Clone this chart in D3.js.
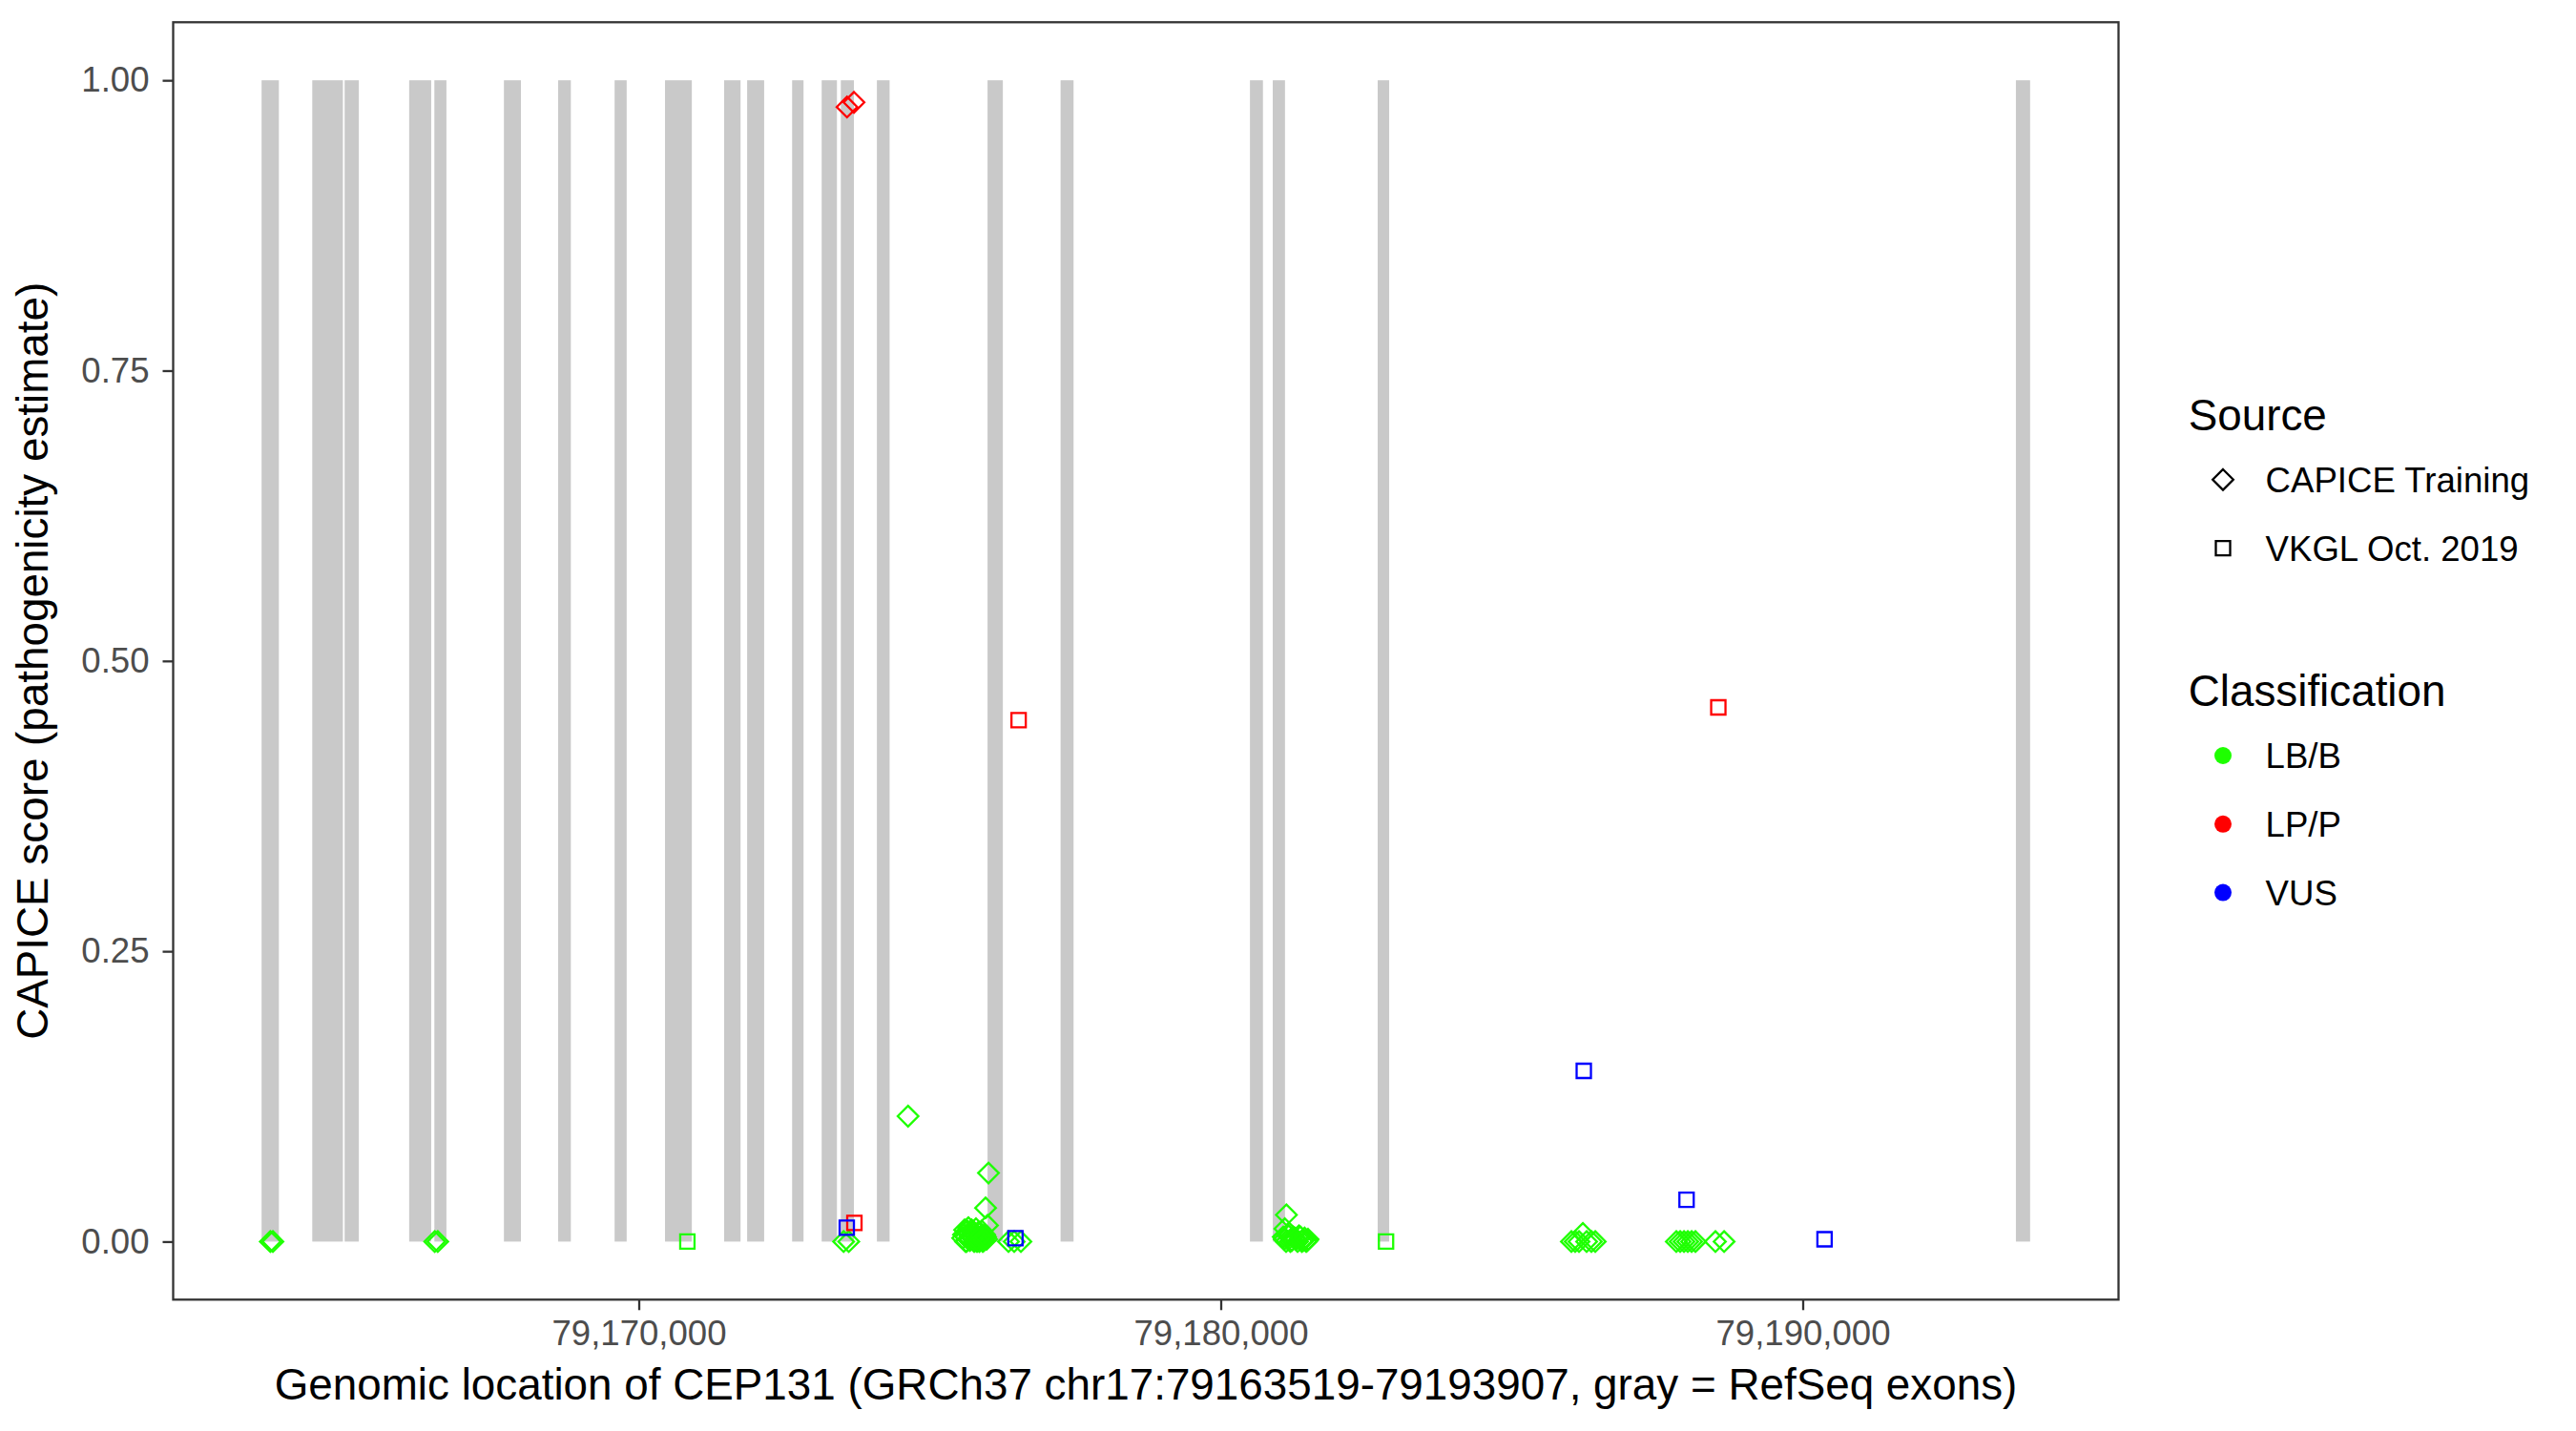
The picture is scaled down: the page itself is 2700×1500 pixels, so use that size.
<!DOCTYPE html>
<html>
<head>
<meta charset="utf-8">
<script src="https://cdn.jsdelivr.net/npm/d3@7"></script>
<style>
  html, body { margin: 0; padding: 0; background: #ffffff; }
  svg { display: block; font-family: "Liberation Sans", Arial, Helvetica, sans-serif; }
</style>
</head>
<body>
<svg id="chart" width="2700" height="1500"></svg>
<script>
// ---------------- data ----------------
const geneStart = 79163519;
const geneEnd = 79193907;

const exonStarts = [79163519, 79164390, 79164946, 79166055, 79166488, 79167683, 79168615, 79169585,
  79170451, 79171467, 79171862, 79172635, 79173143, 79173472, 79174092, 79175993, 79177248,
  79180502, 79180894, 79182697, 79193663];
const exonEnds = [79163816, 79164916, 79165190, 79166433, 79166695, 79167975, 79168833, 79169792,
  79170912, 79171749, 79172154, 79172831, 79173405, 79173697, 79174310, 79176256, 79177471,
  79180725, 79181104, 79182894, 79193907];

// CAPICE Training (diamonds)
const capiceLBpos = [79163669, 79163713, 79166494, 79166546, 79173520, 79173608,
  79174627, 79176009, 79175959, 79175992,
  79175566, 79175599, 79175615, 79175631, 79175664, 79175681, 79175697, 79175713, 79175730, 79175763,
  79175779, 79175795, 79175812, 79175828, 79175861, 79175877, 79175894, 79175910, 79175943, 79175976,
  79175580, 79175622, 79175648, 79175690, 79175722, 79175748, 79175770, 79175804, 79175836, 79175852,
  79175884, 79175918, 79175930, 79175958,
  79176353, 79176451, 79176566,
  79181102, 79181128,
  79181074, 79181123, 79181172, 79181222, 79181271, 79181320, 79181369, 79181418, 79181468, 79181500,
  79181090, 79181148, 79181196, 79181246, 79181296, 79181344, 79181394, 79181442, 79181486,
  79186025, 79186090, 79186156, 79186222, 79186287, 79186369, 79186435,
  79187828, 79187894, 79187960, 79188025, 79188091, 79188156, 79188500, 79188649];
const capiceLBscore = [0, 0, 0, 0, 0, 0,
  0.108, 0.059, 0.029, 0.014,
  0.003, 0.010, 0.0, 0.0, 0.012, 0.007, 0.002, 0.005, 0.008, 0.0,
  0.001, 0.011, 0.0, 0.004, 0.001, 0.003, 0.009, 0.0, 0.006, 0.002,
  0.006, 0.004, 0.009, 0.001, 0.010, 0.003, 0.007, 0.002, 0.008, 0.0,
  0.005, 0.003, 0.001, 0.004,
  0, 0, 0,
  0.011, 0.023,
  0.004, 0.0, 0.005, 0.001, 0.003, 0.0, 0.004, 0.001, 0.0, 0.002,
  0.002, 0.006, 0.0, 0.004, 0.002, 0.005, 0.0, 0.003, 0.001,
  0, 0, 0, 0.007, 0, 0, 0,
  0, 0, 0, 0, 0, 0, 0, 0];
const capiceLPpos = [79173578, 79173698];
const capiceLPscore = [0.977, 0.981];

// VKGL Oct. 2019 (squares)
const vkglLBpos = [79170835, 79182840];
const vkglLBscore = [0, 0];
const vkglLPpos = [79173705, 79176527, 79188550];
const vkglLPscore = [0.016, 0.449, 0.460];
const vkglVUSpos = [79173574, 79176472, 79186238, 79188004, 79190375];
const vkglVUSscore = [0.012, 0.003, 0.147, 0.036, 0.002];

const xTicks = [79170000, 79180000, 79190000];
const yTicks = [0, 0.25, 0.5, 0.75, 1.0];
const sourceLabels = ["CAPICE Training", "VKGL Oct. 2019"];
const classLabels = ["LB/B", "LP/P", "VUS"];
const classColors = ["#1EFF00", "#FF0000", "#0000FF"];

// ---------------- layout ----------------
const svg = d3.select("#chart");
const panel = { left: 181.5, top: 23.3, right: 2220.5, bottom: 1362.3 };
const baseFont = 45.8, smallFont = 36.6;
const span = geneEnd - geneStart;
const x = d3.scaleLinear()
  .domain([geneStart - 0.05 * span, geneEnd + 0.05 * span])
  .range([panel.left, panel.right]);
const y = d3.scaleLinear()
  .domain([-0.05, 1.05])
  .range([panel.bottom, panel.top]);
const color = d3.scaleOrdinal().domain(classLabels).range(classColors);

svg.append("rect")
  .attr("x", panel.left).attr("y", panel.top)
  .attr("width", panel.right - panel.left).attr("height", panel.bottom - panel.top)
  .attr("fill", "#ffffff");

// exons
svg.append("g").selectAll("rect")
  .data(exonStarts.map((s, i) => ({ s, e: exonEnds[i] })))
  .join("rect")
  .attr("x", d => x(d.s))
  .attr("width", d => Math.max(1, x(d.e) - x(d.s)))
  .attr("y", y(1))
  .attr("height", y(0) - y(1))
  .attr("fill", "#C9C9C9");

// points
function build(pos, score, src, cls) {
  return pos.map((p, i) => ({ p, v: score[i], src, cls }));
}
const points = [].concat(
  build(capiceLBpos, capiceLBscore, sourceLabels[0], "LB/B"),
  build(capiceLPpos, capiceLPscore, sourceLabels[0], "LP/P"),
  build(vkglLBpos, vkglLBscore, sourceLabels[1], "LB/B"),
  build(vkglLPpos, vkglLPscore, sourceLabels[1], "LP/P"),
  build(vkglVUSpos, vkglVUSscore, sourceLabels[1], "VUS")
);

const diamondPath = "M0,-10.8L10.8,0L0,10.8L-10.8,0Z";
const squarePath = "M-7.5,-7.5H7.5V7.5H-7.5Z";
function shapePath(src) { return src === sourceLabels[0] ? diamondPath : squarePath; }

svg.append("g").selectAll("path")
  .data(points)
  .join("path")
  .attr("transform", d => `translate(${x(d.p)},${y(d.v)})`)
  .attr("d", d => shapePath(d.src))
  .attr("fill", "none")
  .attr("stroke", d => color(d.cls))
  .attr("stroke-width", 2.3);

// panel border
svg.append("rect")
  .attr("x", panel.left).attr("y", panel.top)
  .attr("width", panel.right - panel.left).attr("height", panel.bottom - panel.top)
  .attr("fill", "none").attr("stroke", "#333333").attr("stroke-width", 2.3);

// axes
const xAxis = svg.append("g")
  .attr("transform", `translate(0,${panel.bottom})`)
  .call(d3.axisBottom(x).tickValues(xTicks).tickFormat(d3.format(",")).tickSize(11).tickPadding(11));
const yAxis = svg.append("g")
  .attr("transform", `translate(${panel.left},0)`)
  .call(d3.axisLeft(y).tickValues(yTicks).tickFormat(d3.format(".2f")).tickSize(11).tickPadding(14));
[xAxis, yAxis].forEach(a => {
  a.select(".domain").remove();
  a.selectAll(".tick line").attr("stroke", "#333333").attr("stroke-width", 2.3);
  a.selectAll(".tick text").attr("fill", "#4D4D4D").style("font-size", smallFont + "px")
    .style("font-family", "'Liberation Sans', Arial, sans-serif");
});

// axis titles
svg.append("text")
  .attr("x", (panel.left + panel.right) / 2).attr("y", 1467)
  .attr("text-anchor", "middle").attr("fill", "#000")
  .style("font-size", baseFont + "px")
  .text("Genomic location of CEP131 (GRCh37 chr17:79163519-79193907, gray = RefSeq exons)");
svg.append("text")
  .attr("transform", `translate(50,${(panel.top + panel.bottom) / 2}) rotate(-90)`)
  .attr("text-anchor", "middle").attr("fill", "#000")
  .style("font-size", baseFont + "px")
  .text("CAPICE score (pathogenicity estimate)");

// legends
const keyX = 2330, textX = 2374.6, titleX = 2293.7, keyStep = 71.8;
const lg = svg.append("g");
lg.append("text").attr("x", titleX).attr("y", 450.5).style("font-size", baseFont + "px").attr("fill", "#000").text("Source");
const srcKeys = lg.selectAll("g.src").data(sourceLabels).join("g").attr("class", "src")
  .attr("transform", (d, i) => `translate(${keyX},${502.8 + i * keyStep})`);
srcKeys.append("path").attr("d", d => shapePath(d)).attr("fill", "none")
  .attr("stroke", "#000").attr("stroke-width", 2.3);
srcKeys.append("text").attr("x", textX - keyX).attr("y", 13).style("font-size", smallFont + "px").attr("fill", "#000").text(d => d);

lg.append("text").attr("x", titleX).attr("y", 739.8).style("font-size", baseFont + "px").attr("fill", "#000").text("Classification");
const clsKeys = lg.selectAll("g.cls").data(classLabels).join("g").attr("class", "cls")
  .attr("transform", (d, i) => `translate(${keyX},${792 + i * keyStep})`);
clsKeys.append("circle").attr("r", 9).attr("fill", d => color(d));
clsKeys.append("text").attr("x", textX - keyX).attr("y", 13).style("font-size", smallFont + "px").attr("fill", "#000").text(d => d);
</script>
</body>
</html>
